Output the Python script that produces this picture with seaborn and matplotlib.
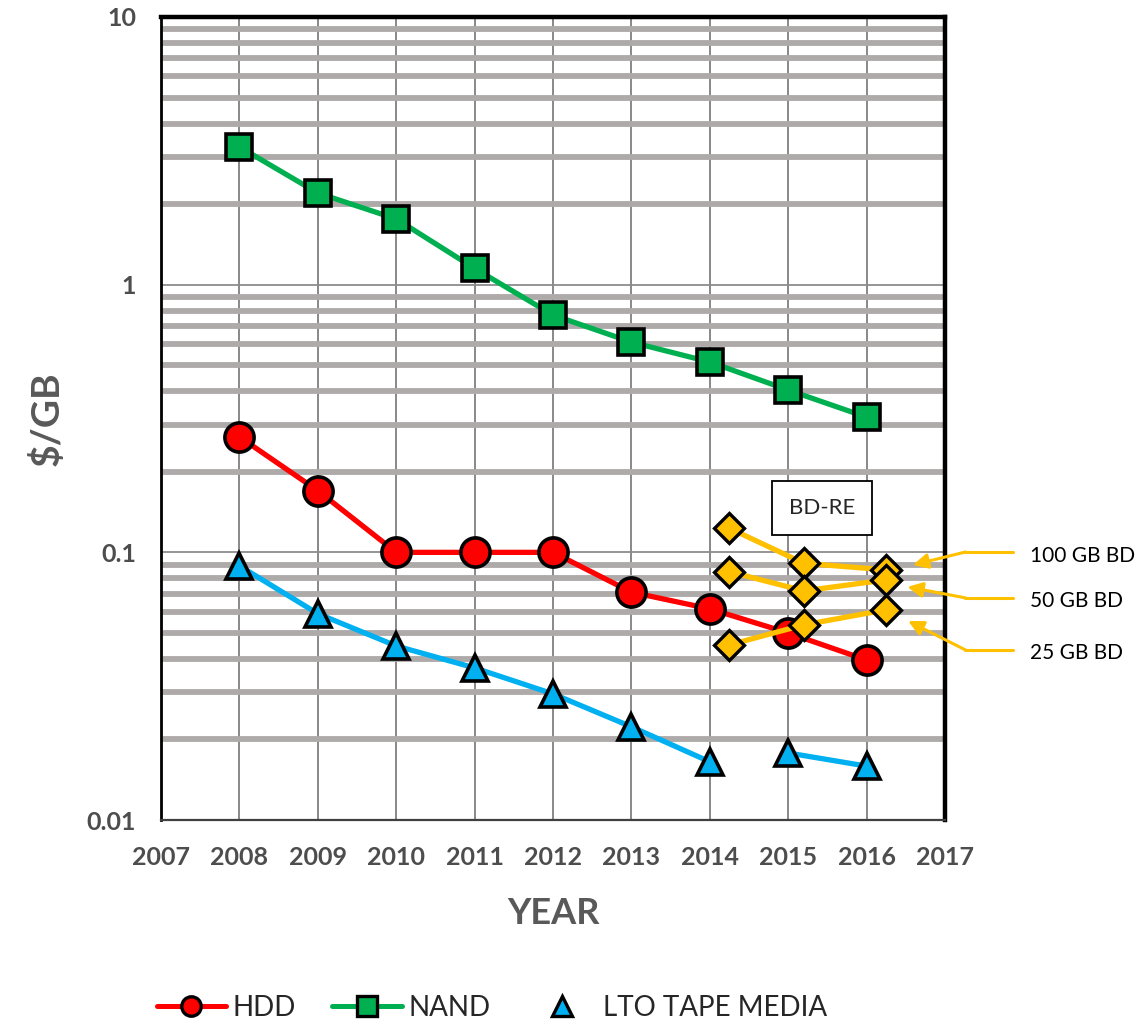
# Storage cost per GB, 2008-2016 (log scale)

import matplotlib
matplotlib.use("Agg")
import matplotlib.pyplot as plt
import seaborn as sns
from matplotlib.lines import Line2D
from matplotlib.ticker import LogLocator, FixedLocator, FixedFormatter

years = [2008, 2009, 2010, 2011, 2012, 2013, 2014, 2015, 2016]
hdd = [0.27, 0.17, 0.10, 0.10, 0.10, 0.071, 0.0615, 0.050, 0.0396]
nand = [3.27, 2.20, 1.76, 1.15, 0.77, 0.61, 0.514, 0.404, 0.32]
lto = [0.089, 0.059, 0.0447, 0.037, 0.0296, 0.0223, 0.0165, 0.0178, 0.0159]

bd_x = [2014.25, 2015.2, 2016.25]
bd_100 = [0.123, 0.091, 0.086]
bd_50 = [0.0846, 0.0718, 0.0789]
bd_25 = [0.0451, 0.0536, 0.061]
bd_labels = ["100 GB BD", "50 GB BD", "25 GB BD"]

x_ticks = list(range(2007, 2018))
y_ticks = [0.01, 0.1, 1, 10]
y_tick_labels = ["0.01", "0.1", "1", "10"]

RED = "#FF0000"
GREEN = "#00B050"
BLUE = "#00B0F0"
GOLD = "#FFC000"
GRAY_TXT = "#4D4D4D"

sns.set_style("white")
plt.rcParams["font.family"] = ["Lato", "DejaVu Sans"]

fig = plt.figure(figsize=(11.47, 10.24), dpi=100)
ax = fig.add_axes([0.1404, 0.1992, 0.6835, 0.7842])

mk = dict(markeredgecolor="black", markeredgewidth=2.6, lw=3.8, legend=False)

sns.lineplot(x=years, y=hdd, color=RED, marker="o", markersize=21, ax=ax, zorder=4, **mk)
sns.lineplot(x=years, y=nand, color=GREEN, marker="s", markersize=19, ax=ax, zorder=4, **mk)
# tape line is broken between 2014 and 2015
sns.lineplot(x=years[:7], y=lto[:7], color=BLUE, marker="^", markersize=19, ax=ax, zorder=4, **mk)
sns.lineplot(x=years[7:], y=lto[7:], color=BLUE, marker="^", markersize=19, ax=ax, zorder=4, **mk)

for vals in [bd_100, bd_50, bd_25]:
    sns.lineplot(x=bd_x, y=vals, color=GOLD, marker="D", markersize=15, ax=ax, zorder=5,
                 markeredgecolor="black", markeredgewidth=2.4, lw=3.8, legend=False)

ax.set_yscale("log")
ax.set_xlim(2007, 2017)
ax.set_ylim(0.01, 10)

# gridlines
ax.yaxis.set_major_locator(FixedLocator(y_ticks))
ax.yaxis.set_major_formatter(FixedFormatter(y_tick_labels))
ax.yaxis.set_minor_locator(LogLocator(base=10, subs=[2, 3, 4, 5, 6, 7, 8, 9]))
ax.grid(True, which="minor", axis="y", color="#AEAAAA", lw=4.2)
ax.grid(True, which="major", axis="y", color="#8C8C8C", lw=1.3)
ax.grid(True, which="major", axis="x", color="#7F7F7F", lw=1.3)
ax.set_axisbelow(True)

ax.set_xticks(x_ticks)
ax.tick_params(axis="both", which="major", direction="out", length=6, width=1.2,
               color="#A6A6A6", labelsize=18, labelcolor=GRAY_TXT)
ax.tick_params(axis="x", which="major", pad=13)
ax.tick_params(axis="y", which="major", pad=12)
ax.tick_params(axis="y", which="minor", length=0)
for lab in ax.get_xticklabels() + ax.get_yticklabels():
    lab.set_fontweight("bold")

for side in ["top", "right"]:
    ax.spines[side].set_color("black")
    ax.spines[side].set_linewidth(3.2)
ax.spines["left"].set_color("black")
ax.spines["left"].set_linewidth(2.0)
ax.spines["bottom"].set_color("#404040")
ax.spines["bottom"].set_linewidth(1.6)

ax.set_ylabel(r"\$/GB", fontsize=28, fontweight="bold", color="#595959", labelpad=16)
ax.set_xlabel("YEAR", fontsize=26, fontweight="bold", color="#595959", labelpad=20)

# BD-RE box
ax.text(2015.43, 0.1465, "BD-RE", fontsize=16, ha="center", va="center", zorder=6,
        bbox=dict(boxstyle="square,pad=0.75", fc="white", ec="black", lw=1.3))

# arrows pointing at the 2016 Blu-ray points
label_y = [0.1003, 0.0676, 0.0432]
elbow_x = 2017.26
head_x = [2016.59, 2016.52, 2016.53]
head_y = [0.0897, 0.0743, 0.0554]
for lab, ly, hx, hy in zip(bd_labels, label_y, head_x, head_y):
    ax.plot([2017.87, elbow_x], [ly, ly], color=GOLD, lw=2.2, clip_on=False, zorder=6)
    ax.annotate("", xy=(hx, hy), xytext=(elbow_x, ly), annotation_clip=False, zorder=6,
                arrowprops=dict(arrowstyle="-|>,head_length=0.9,head_width=0.45",
                                color=GOLD, lw=2.2, shrinkA=0, shrinkB=0))
    ax.text(2018.08, ly * 0.97, lab, fontsize=15, ha="left", va="center", color="black")

handles = [
    Line2D([], [], color=RED, lw=3.6, marker="o", markersize=14,
           markeredgecolor="black", markeredgewidth=2.4),
    Line2D([], [], color=GREEN, lw=3.6, marker="s", markersize=15,
           markeredgecolor="black", markeredgewidth=2.4),
    Line2D([], [], color=BLUE, lw=0, marker="^", markersize=15,
           markeredgecolor="black", markeredgewidth=2.4),
]
fig.legend(handles, ["HDD", "NAND", "LTO TAPE MEDIA"], loc="center",
           bbox_to_anchor=(0.429, 0.016), ncol=3, frameon=False, fontsize=20,
           handlelength=2.5, columnspacing=1.3, handletextpad=0.25)

fig.savefig("out.png", dpi=100)
